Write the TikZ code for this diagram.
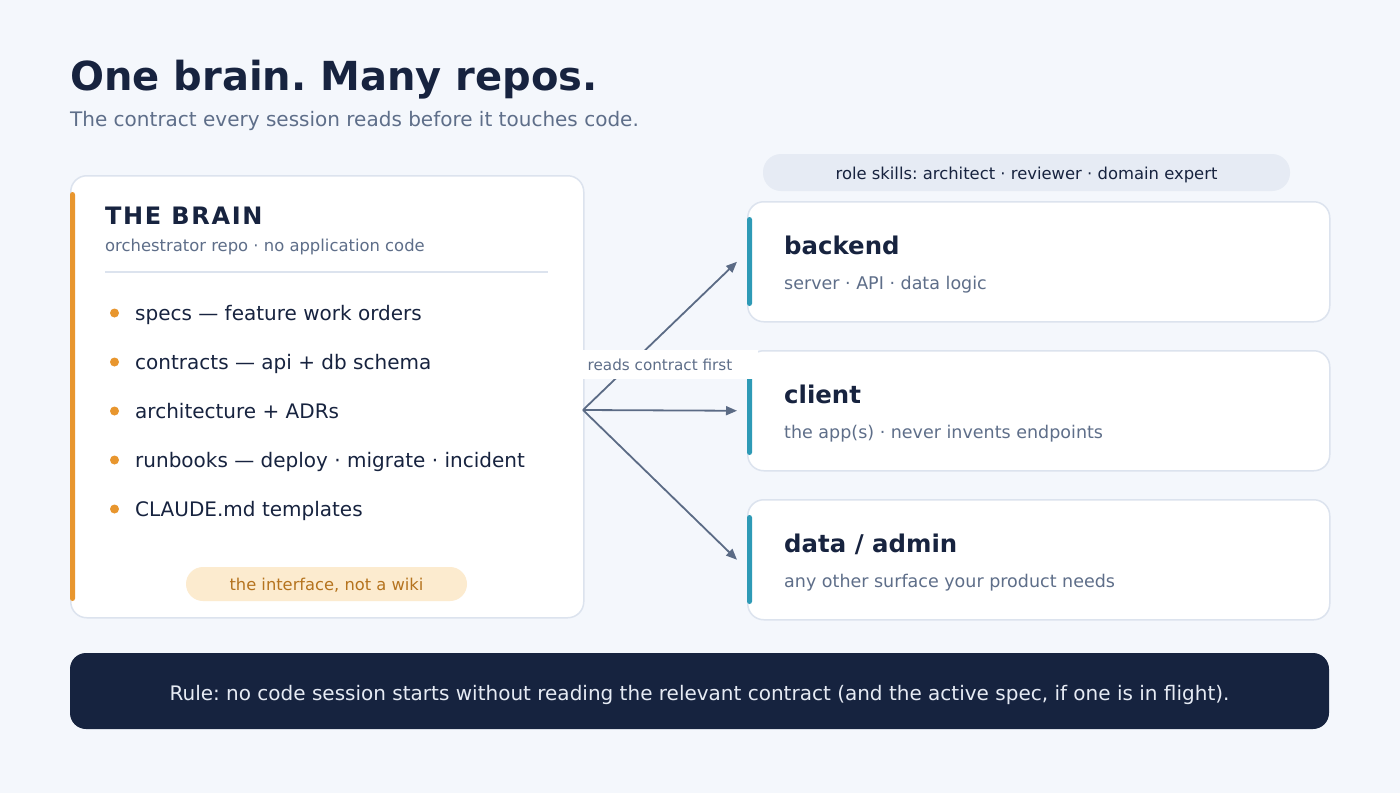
\documentclass[tikz,border=0pt]{standalone}
\usepackage{fontspec}
\setmainfont{DejaVu Sans}
\newfontfamily\spacedfont[LetterSpace=7]{DejaVu Sans}
\usetikzlibrary{arrows.meta}
\definecolor{bgc}{HTML}{F4F7FC}
\definecolor{ink}{HTML}{17233F}
\definecolor{muted}{HTML}{5E6E89}
\definecolor{edge}{HTML}{DCE3EE}
\definecolor{amber}{HTML}{E8962E}
\definecolor{teal}{HTML}{2E9AB6}
\definecolor{pillamber}{HTML}{FCEBCF}
\definecolor{pillamberText}{HTML}{B5731E}
\definecolor{pillgray}{HTML}{E6EBF4}
\definecolor{navy}{HTML}{16233F}
\definecolor{arrowc}{HTML}{5B6B85}
\newcommand{\fs}[1]{\fontsize{#1}{#1}\selectfont}
\tikzset{
  card/.style={draw=edge, line width=1.5pt, fill=white, rounded corners=16pt, anchor=north west, inner sep=0pt},
  txt/.style={anchor=base west, inner sep=0pt},
  ctxt/.style={anchor=base, inner sep=0pt},
  bulletdot/.style={circle, fill=amber, minimum size=9pt, inner sep=0pt},
  link/.style={draw=arrowc, line width=1.8pt, -{Triangle[length=11pt,width=9pt]}},
}
\begin{document}
\frenchspacing
\begin{tikzpicture}[x=1pt,y=-1pt]
\path[fill=bgc] (0,0) rectangle (1400,793);
\useasboundingbox (0,0) rectangle (1400,793);
% title
\node[txt, text=ink] (title) at (70,90) {\fs{40}\bfseries One brain. Many repos.};
\node[txt, text=muted] (subtitle) at (70,126) {\fs{20}The contract every session reads before it touches code.};
% brain card
\node[card, minimum width=513pt, minimum height=442pt] (brain) at (70,175) {};
\path[fill=amber, rounded corners=2.5pt] (70,192) rectangle (75,601);
\node[txt, text=ink] (braint) at (105,224) {\fs{24}\spacedfont\bfseries THE BRAIN};
\node[txt, text=muted] (brains) at (105,251) {\fs{16.4}orchestrator repo · no application code};
\draw[edge, line width=1.5pt] (105,272) -- (548,272);
\foreach \y/\t [count=\i] in {313/{specs — feature work orders},362/{contracts — api + db schema},411/{architecture + ADRs},460/{runbooks — deploy · migrate · incident},509/{CLAUDE.md templates}}{
  \node[bulletdot] (dot\i) at (114.5,\y) {};
  \node[txt, text=ink] (item\i) at (135,\y+7) {\fs{20}\t};
}
\node[fill=pillamber, rounded corners=17pt, minimum width=281pt, minimum height=34pt, inner sep=0pt] (wiki) at (326.5,584) {};
\node[ctxt, text=pillamberText] (wikit) at (326.5,590) {\fs{16.3}the interface, not a wiki};
% role pill
\node[fill=pillgray, rounded corners=18pt, minimum width=527pt, minimum height=37pt, inner sep=0pt] (role) at (1026.5,172.5) {};
\node[ctxt, text=ink] (rolet) at (1026.5,179) {\fs{16.4}role skills: architect · reviewer · domain expert};
% right cards
\foreach \nm/\top/\ti/\su in {backend/201/backend/{server · API · data logic},client/350/client/{the app(s) · never invents endpoints},data/499/{data / admin}/{any other surface your product needs}}{
  \node[card, minimum width=582pt, minimum height=120pt] (\nm) at (747,\top) {};
  \path[fill=teal, rounded corners=2.5pt] (747,\top+16) rectangle (752,\top+105);
  \node[txt, text=ink] (\nm t) at (784,\top+53) {\fs{24.4}\bfseries \ti};
  \node[txt, text=muted] (\nm s) at (784,\top+88) {\fs{17.5}\su};
  \coordinate (\nm in) at ([xshift=-10pt]\nm.west);
}
% arrows
\coordinate (hub) at (583,410);
\draw[link] (hub) -- (backendin);
\draw[link] (hub) -- (clientin);
\draw[link] (hub) -- (datain);
\node[fill=white, minimum width=180pt, minimum height=29pt, inner sep=0pt] (lbl) at (668,364.5) {};
\node[ctxt, text=muted] (lblt) at (660,370) {\fs{15.2}reads contract first};
% rule bar
\node[fill=navy, rounded corners=16pt, minimum width=1259pt, minimum height=76pt, inner sep=0pt] (rule) at (699.5,691) {};
\node[ctxt, text=pillgray] (rulet) at (699.5,700) {\fs{20}Rule: no code session starts without reading the relevant contract (and the active spec, if one is in flight).};
\end{tikzpicture}
\end{document}
